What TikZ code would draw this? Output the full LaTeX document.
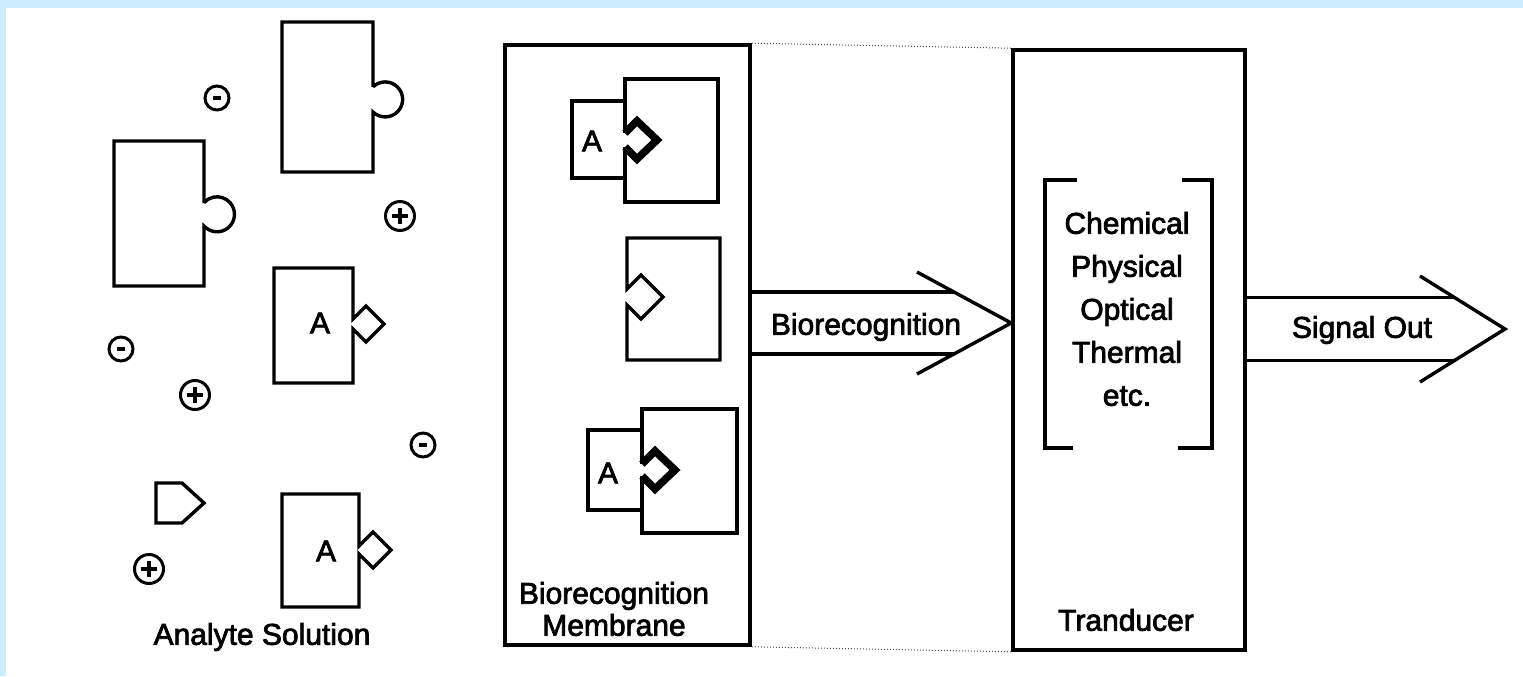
\documentclass[tikz,border=0pt]{standalone}
\usepackage{fontspec}
\setmainfont{Liberation Sans}[FakeBold=2.5]
\definecolor{paneledge}{RGB}{204,236,255}

\begin{document}
\begin{tikzpicture}[x=0.5pt,y=-0.5pt,
  outline/.style={line width=1.7pt, line join=miter, line cap=butt},
  keyline/.style={line width=3.8pt, line join=miter},
  txt/.style={font=\fontsize{15}{18}\selectfont, inner sep=0pt},
  ion/.style={line width=1.5pt},
  sign/.style={line width=1.7pt},
  box/.style={draw, line width=1.8pt, rectangle, inner sep=0pt},
  link/.style={densely dotted, line width=0.5pt, black!70},
]
\useasboundingbox (0,0) rectangle (1523,676);
\fill[white] (0,0) rectangle (1523,676);
\fill[paneledge] (0,0) rectangle (1523,8);
\fill[paneledge] (0,0) rectangle (6,676);

% ---------- analyte solution ----------
% receptors with round knobs
\draw[outline] (373,87) -- (373,22) -- (282,22) -- (282,172) -- (373,172) -- (373,112)
  arc[start angle=134, end angle=-134, radius=17.5] -- cycle;
\draw[outline] (204,203) -- (204,141) -- (114,141) -- (114,286) -- (204,286) -- (204,226)
  arc[start angle=138, end angle=-138, radius=17.5] -- cycle;

% analytes with diamond keys
\draw[outline] (353,319) -- (353,268) -- (274,268) -- (274,383) -- (353,383) -- (353,329)
  -- (366,342) -- (384,324) -- (366,306) -- cycle;
\node[txt] (a1) at (320,323) {A};
\draw[outline] (359,546) -- (359,494) -- (282,494) -- (282,607) -- (359,607) -- (359,554)
  -- (373,568) -- (391,550) -- (373,532) -- cycle;
\node[txt] (a2) at (326,551) {A};

% free key fragment
\draw[outline] (156,483) -- (182,483) -- (204,503) -- (182,523) -- (156,523) -- cycle;

% ions
\foreach \cx/\cy in {217/98, 121/349, 423/445}{
  \draw[ion] (\cx,\cy) circle[radius=12];
  \draw[sign] (\cx-4,\cy) -- (\cx+4,\cy);
}
\foreach \cx/\cy in {400/216, 195/395, 149/569}{
  \draw[ion] (\cx,\cy) circle[radius=14.5];
  \draw[sign] (\cx-8,\cy) -- (\cx+8,\cy) (\cx,\cy-8) -- (\cx,\cy+8);
}
\node[txt] (sol) at (262,637) {Analyte Solution};

% ---------- biorecognition membrane ----------
\node[box, minimum width=122.5pt, minimum height=300pt] (mem) at (627.5,345) {};

% bound complex, upper
\draw[outline] (625,101) -- (572,101) -- (572,178) -- (625,178);
\draw[outline] (625,133) -- (625,79) -- (718,79) -- (718,202) -- (625,202) -- (625,147);
\draw[keyline] (625,133) -- (637,121) -- (657,140) -- (637,159) -- (625,147);
\node[txt] (a3) at (592,141) {A};

% free receptor with empty cavity
\draw[outline] (627,289) -- (627,238) -- (720,238) -- (720,360) -- (627,360) -- (627,305)
  -- (641,319) -- (663,297) -- (641,275) -- cycle;

% bound complex, lower
\draw[outline] (642,430) -- (588,430) -- (588,510) -- (642,510);
\draw[outline] (642,464) -- (642,409) -- (737,409) -- (737,533) -- (642,533) -- (642,476);
\draw[keyline] (642,464) -- (655,451) -- (675,470) -- (655,489) -- (642,476);
\node[txt] (a4) at (608,473) {A};

\node[txt, align=center, font=\fontsize{15}{16}\selectfont] (memlabel) at (614,609)
  {Biorecognition\\Membrane};

% ---------- transducer ----------
\node[box, minimum width=116pt, minimum height=300pt] (trans) at (1129,350) {};
\draw[outline] (1077,180) -- (1045,180) -- (1045,448) -- (1073,448);
\draw[outline] (1182,180) -- (1212,180) -- (1212,448) -- (1178,448);
\node[txt, align=center, font=\fontsize{15}{21.5}\selectfont] (modes) at (1127,309)
  {Chemical\\Physical\\Optical\\Thermal\\etc.};
\node[txt] (translabel) at (1126,620) {Tranducer};

% faint guide lines between the two blocks
\draw[link] (mem.north east) -- (trans.north west);
\draw[link] (mem.south east) -- (trans.south west);

% ---------- block arrows ----------
\coordinate (bioAxis) at (0,323);
\coordinate (bioTip) at (trans.west |- bioAxis);
\draw[outline] (mem.east |- 0,292) -- (953.5,292);
\draw[outline] (mem.east |- 0,354) -- (953.5,354);
\draw[outline, line join=miter] (917,272) -- (bioTip) -- (917,374);
\node[txt] (biolabel) at (866,327) {Biorecognition};

\coordinate (outTip) at (1505,329);
\draw[outline] (trans.east |- 0,297.5) -- (1454.5,297.5);
\draw[outline] (trans.east |- 0,360.5) -- (1454.5,360.5);
\draw[outline, line join=miter] (1420,276) -- (outTip) -- (1420,382);
\node[txt] (outlabel) at (1362,330) {Signal Out};
\end{tikzpicture}
\end{document}
